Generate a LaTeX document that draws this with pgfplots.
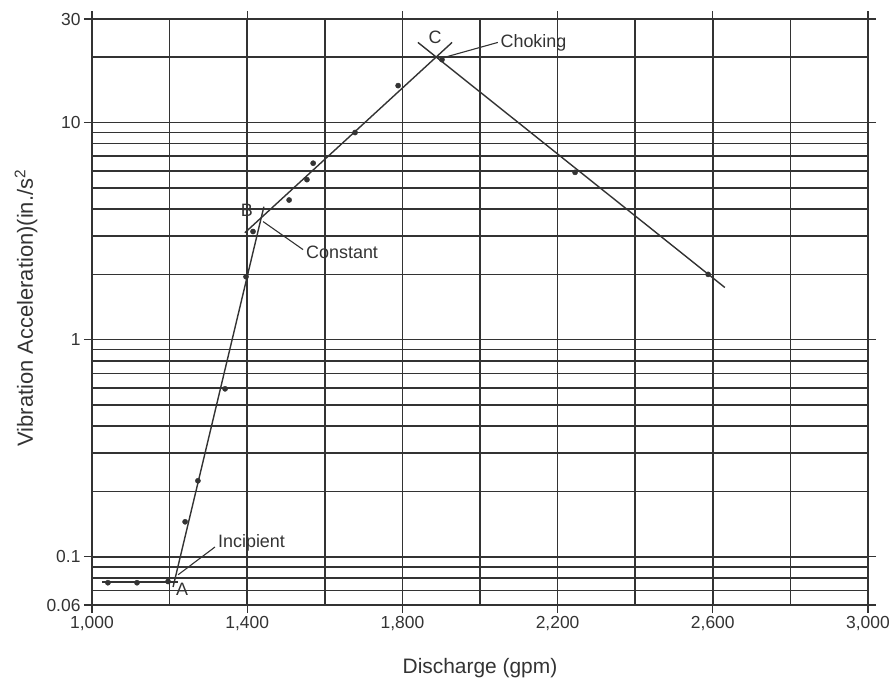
\documentclass[border=0pt]{standalone}
\usepackage{pgfplots}
\pgfplotsset{compat=1.18}
\usepackage{fontspec}
\setmainfont{Liberation Sans}
\definecolor{ink}{gray}{0.2}
\begin{document}
\begin{tikzpicture}
\begin{axis}[
  name=ax,
  scale only axis,
  width=776bp, height=586bp,
  xmin=1000, xmax=3000,
  ymode=log, ymin=0.06, ymax=30,
  xtick={1000,1400,1800,2200,2600,3000},
  xticklabels={{1,000},{1,400},{1,800},{2,200},{2,600},{3,000}},
  minor xtick={1200,1600,2000,2400,2800},
  ytick={0.06,0.1,1,10,30},
  yticklabels={0.06,0.1,1,10,30},
  minor ytick={0.07,0.08,0.09,0.2,0.3,0.4,0.5,0.6,0.7,0.8,0.9,2,3,4,5,6,7,8,9,20},
  grid=both,
  major grid style={ink, line width=1.5bp},
  minor grid style={ink, line width=1.5bp},
  tick align=outside,
  major tick length=8bp,
  minor tick length=0pt,
  axis line style={ink, line width=1.5bp},
  tick style={ink, line width=1.2bp},
  every tick label/.append style={font=\fontsize{17.5}{20}\selectfont, text=ink},
  every axis x label/.style={at={(axis description cs:0.5,0)}, anchor=north, yshift=-50bp, font=\fontsize{21}{24}\selectfont, text=ink},
  every axis y label/.style={at={(axis description cs:0,0.5)}, rotate=90, anchor=center, yshift=66bp, xshift=4bp, font=\fontsize{22}{24}\selectfont, text=ink},
  xlabel={Discharge (gpm)},
  ylabel={Vibration Acceleration)(in./s\textsuperscript{2}},
  clip=false,
]
% fitted lines
\addplot[ink, line width=1.4bp] coordinates {(1026,0.0767) (1222,0.0767)};
\addplot[ink, line width=1.4bp] coordinates {(1209,0.0727) (1443,4.1)};
\addplot[ink, line width=1.4bp] coordinates {(1394,3.11) (1928,23.4)};
\addplot[ink, line width=1.4bp] coordinates {(1840,23.4) (2631,1.74)};
% measured points
\addplot[only marks, mark=*, mark size=2.6bp, ink] coordinates {
(1041,0.076) (1116,0.076) (1196,0.077) (1240,0.145) (1273,0.224) (1343,0.594)
(1397,1.95) (1415,3.15) (1508,4.4) (1554,5.46) (1570,6.5) (1678,9.0)
(1789,14.8) (1902,19.5) (2245,5.9) (2588,2.0)};
% annotations
\draw[ink, line width=1.1bp] (axis cs:1222,0.0827) -- (axis cs:1317,0.111);
\node[anchor=west, inner sep=1bp, font=\fontsize{18}{20}\selectfont, text=ink] at (axis cs:1322,0.116) {Incipient};
\node[font=\fontsize{18}{20}\selectfont, text=ink] at (axis cs:1232,0.0712) {A};
\draw[ink, line width=1.1bp] (axis cs:1441,3.5) -- (axis cs:1544,2.6);
\node[anchor=west, inner sep=1bp, font=\fontsize{18}{20}\selectfont, text=ink] at (axis cs:1549,2.52) {Constant};
\node[font=\fontsize{18}{20}\selectfont, text=ink] at (axis cs:1399,3.93) {B};
\draw[ink, line width=1.1bp] (axis cs:1905,19.9) -- (axis cs:2046,23.4);
\node[anchor=west, inner sep=1bp, font=\fontsize{18}{20}\selectfont, text=ink] at (axis cs:2050,23.4) {Choking};
\node[font=\fontsize{18}{20}\selectfont, text=ink] at (axis cs:1884,24.6) {C};
\end{axis}
\pgfresetboundingbox
\path[use as bounding box] ([shift={(-92bp,-78bp)}]ax.south west) rectangle ([shift={(27bp,19bp)}]ax.north east);
\end{tikzpicture}
\end{document}
